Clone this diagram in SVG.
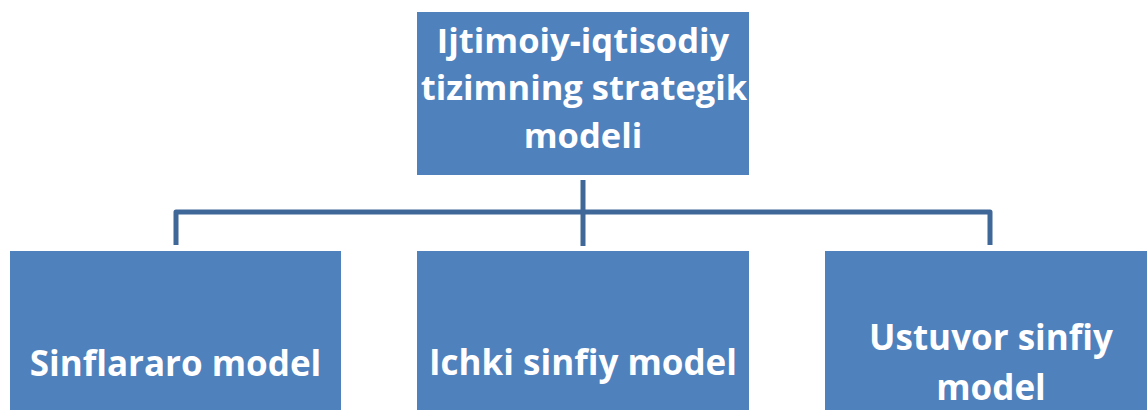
<svg xmlns="http://www.w3.org/2000/svg" width="1147" height="410" viewBox="0 0 1147 410">
<style>
.box{fill:#4F81BD;}
.lbl{font-family:"Open Sans","Liberation Sans",sans-serif;font-weight:700;fill:#FFFFFF;text-anchor:middle;font-size:35px;}
.top{font-size:34.5px;}
.conn{fill:none;stroke:#3F6797;stroke-width:5;stroke-linejoin:round;}
</style>
<rect width="1147" height="410" fill="#FFFFFF"/>
<g id="connectors">
<path class="conn" d="M176,245 V212 H990 V245"/>
<path class="conn" d="M583,180 V246"/>
</g>
<g id="node-top">
<rect class="box" x="417" y="12" width="332" height="163"/>
<text class="lbl top" x="583" y="53">Ijtimoiy-iqtisodiy</text>
<text class="lbl top" x="584" y="100">tizimning strategik</text>
<text class="lbl top" x="583" y="148">modeli</text>
</g>
<g id="node-left">
<rect class="box" x="10" y="251" width="331" height="165"/>
<text class="lbl" x="175.5" y="376">Sinflararo model</text>
</g>
<g id="node-mid">
<rect class="box" x="417" y="251" width="332" height="165"/>
<text class="lbl" x="583" y="375">Ichki sinfiy model</text>
</g>
<g id="node-right">
<rect class="box" x="825" y="251" width="332" height="165"/>
<text class="lbl" x="991" y="350">Ustuvor sinfiy</text>
<text class="lbl" x="991" y="400">model</text>
</g>
</svg>
